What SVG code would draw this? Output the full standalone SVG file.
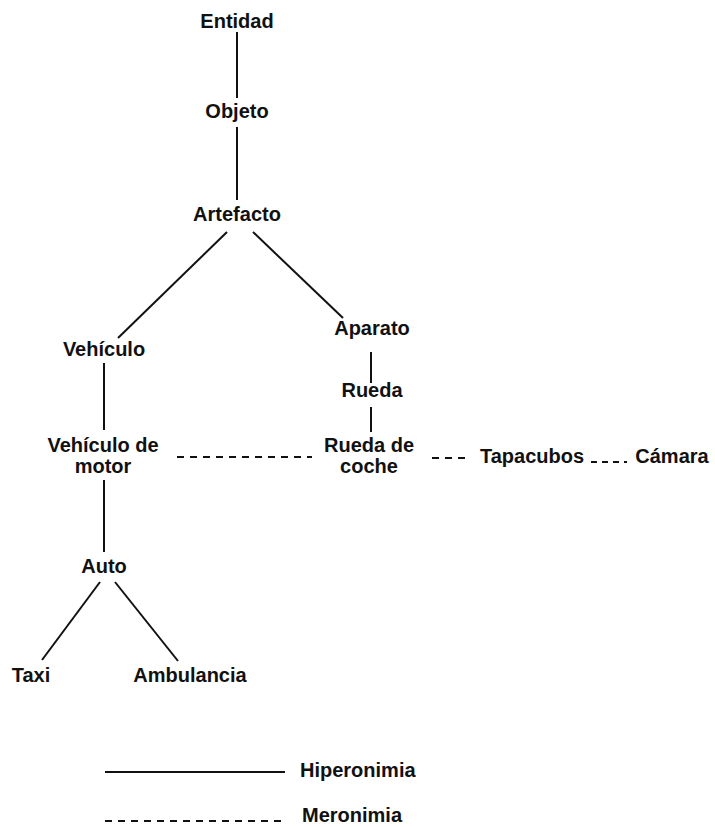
<svg xmlns="http://www.w3.org/2000/svg" width="715" height="827" viewBox="0 0 715 827">
  <style>
    text { font-family: "Liberation Sans", Arial, Helvetica, sans-serif; font-weight: bold; font-size: 20px; fill: #111; text-anchor: middle; }
    .hyp { stroke: #111; stroke-width: 2; fill: none; }
    .mer { stroke: #111; stroke-width: 2; fill: none; stroke-dasharray: 7 6; }
    .lbl { text-anchor: start; }
  </style>
  <rect width="715" height="827" fill="#fff"/>

  <!-- connectors -->
  <g id="connectors">
    <line class="hyp" x1="237" y1="32" x2="237" y2="98"/>
    <line class="hyp" x1="237" y1="127" x2="237" y2="200"/>
    <line class="hyp" x1="227" y1="232" x2="118" y2="338"/>
    <line class="hyp" x1="253" y1="232" x2="343" y2="318"/>
    <line class="hyp" x1="104" y1="363" x2="104" y2="430"/>
    <line class="hyp" x1="371" y1="352" x2="371" y2="383"/>
    <line class="hyp" x1="371" y1="407" x2="371" y2="432"/>
    <line class="hyp" x1="104" y1="480" x2="104" y2="552"/>
    <line class="hyp" x1="100" y1="582" x2="42" y2="660"/>
    <line class="hyp" x1="115" y1="582" x2="178" y2="661"/>
    <line class="mer" x1="177" y1="457" x2="312" y2="457"/>
    <line class="mer" x1="432" y1="458" x2="470" y2="458"/>
    <line class="mer" x1="591" y1="462" x2="627" y2="462" style="stroke-dasharray: 6 5"/>
  </g>

  <!-- nodes -->
  <g id="entidad"><text x="237" y="28">Entidad</text></g>
  <g id="objeto"><text x="237" y="118">Objeto</text></g>
  <g id="artefacto"><text x="237" y="221">Artefacto</text></g>
  <g id="vehiculo"><text x="104" y="356">Vehículo</text></g>
  <g id="aparato"><text x="372" y="335">Aparato</text></g>
  <g id="rueda"><text x="372" y="397">Rueda</text></g>
  <g id="vehiculo-motor"><text x="103" y="452">Vehículo de</text><text x="103" y="473">motor</text></g>
  <g id="rueda-coche"><text x="369" y="452">Rueda de</text><text x="369" y="473">coche</text></g>
  <g id="tapacubos"><text x="532" y="463">Tapacubos</text></g>
  <g id="camara"><text x="672" y="463">Cámara</text></g>
  <g id="auto"><text x="104" y="573">Auto</text></g>
  <g id="taxi"><text x="31" y="682">Taxi</text></g>
  <g id="ambulancia"><text x="190" y="682">Ambulancia</text></g>

  <!-- legend -->
  <g id="legend">
    <line class="hyp" x1="105" y1="772" x2="285" y2="772"/>
    <text class="lbl" x="300" y="777">Hiperonimia</text>
    <line class="mer" x1="105" y1="821" x2="282" y2="821"/>
    <text class="lbl" x="302" y="822">Meronimia</text>
  </g>
</svg>
